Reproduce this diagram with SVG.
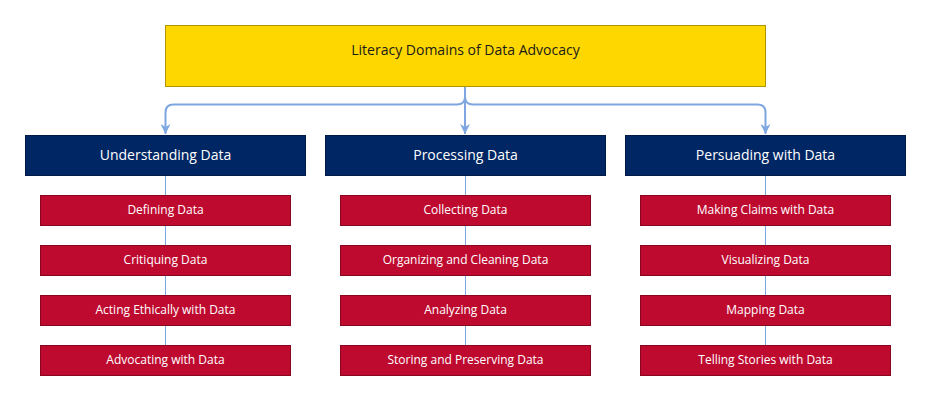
<svg xmlns="http://www.w3.org/2000/svg" width="932" height="401" viewBox="0 0 932 401">
<defs>
<style>
text{font-family:"Open Sans","Noto Sans","Liberation Sans",sans-serif;text-anchor:middle;dominant-baseline:central}
.root rect{fill:#FFD700;stroke:#B09500;stroke-width:1}
.root text{font-size:14px;fill:#1a1a1a}
.dom rect{fill:#002664;stroke:#001a45;stroke-width:1}
.dom text{font-size:14px;fill:#ffffff}
.sub rect{fill:#BE0A2F;stroke:#8a0620;stroke-width:1}
.sub text{font-size:12px;fill:#ffffff}
.main{fill:none;stroke:#7EA6E0;stroke-width:2}
.thin{fill:none;stroke:#7EA6E0;stroke-width:1}
</style>
<marker id="arr" viewBox="0 0 10 10" refX="10" refY="5" markerWidth="5" markerHeight="5" orient="auto" markerUnits="strokeWidth">
<path d="M0,0 L10,5 L0,10 L3,5 Z" fill="#7EA6E0"/>
</marker>
</defs>
<rect width="932" height="401" fill="#ffffff"/>
<g id="connectors">
<path class="thin" d="M165.5 176 V345"/>
<path class="thin" d="M465.5 176 V345"/>
<path class="thin" d="M765.5 176 V345"/>
<path class="main" d="M465 86.5 V96.5 Q465 104.5 457 104.5 H173.5 Q165.5 104.5 165.5 112.5 V134" marker-end="url(#arr)"/>
<path class="main" d="M465 86.5 V134" marker-end="url(#arr)"/>
<path class="main" d="M465 86.5 V96.5 Q465 104.5 473 104.5 H757.5 Q765.5 104.5 765.5 112.5 V134" marker-end="url(#arr)"/>
</g>
<g id="root" class="root"><rect x="165.5" y="25.5" width="600" height="61"/><text x="465.5" y="49.5">Literacy Domains of Data Advocacy</text></g>
<g id="understanding" class="dom"><rect x="25.5" y="135.5" width="280" height="40"/><text x="165.5" y="154.5">Understanding Data</text></g>
<g id="processing" class="dom"><rect x="325.5" y="135.5" width="280" height="40"/><text x="465.5" y="154.5">Processing Data</text></g>
<g id="persuading" class="dom"><rect x="625.5" y="135.5" width="280" height="40"/><text x="765.5" y="154.5">Persuading with Data</text></g>
<g id="defining" class="sub"><rect x="40.5" y="195.5" width="250" height="30"/><text x="165.5" y="209.5">Defining Data</text></g>
<g id="critiquing" class="sub"><rect x="40.5" y="245.5" width="250" height="30"/><text x="165.5" y="259.5">Critiquing Data</text></g>
<g id="ethically" class="sub"><rect x="40.5" y="295.5" width="250" height="30"/><text x="165.5" y="309.5">Acting Ethically with Data</text></g>
<g id="advocating" class="sub"><rect x="40.5" y="345.5" width="250" height="30"/><text x="165.5" y="359.5">Advocating with Data</text></g>
<g id="collecting" class="sub"><rect x="340.5" y="195.5" width="250" height="30"/><text x="465.5" y="209.5">Collecting Data</text></g>
<g id="organizing" class="sub"><rect x="340.5" y="245.5" width="250" height="30"/><text x="465.5" y="259.5">Organizing and Cleaning Data</text></g>
<g id="analyzing" class="sub"><rect x="340.5" y="295.5" width="250" height="30"/><text x="465.5" y="309.5">Analyzing Data</text></g>
<g id="storing" class="sub"><rect x="340.5" y="345.5" width="250" height="30"/><text x="465.5" y="359.5">Storing and Preserving Data</text></g>
<g id="claims" class="sub"><rect x="640.5" y="195.5" width="250" height="30"/><text x="765.5" y="209.5">Making Claims with Data</text></g>
<g id="visualizing" class="sub"><rect x="640.5" y="245.5" width="250" height="30"/><text x="765.5" y="259.5">Visualizing Data</text></g>
<g id="mapping" class="sub"><rect x="640.5" y="295.5" width="250" height="30"/><text x="765.5" y="309.5">Mapping Data</text></g>
<g id="stories" class="sub"><rect x="640.5" y="345.5" width="250" height="30"/><text x="765.5" y="359.5">Telling Stories with Data</text></g>
</svg>
